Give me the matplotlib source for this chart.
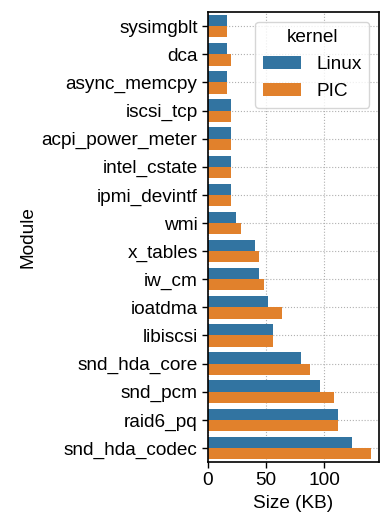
import numpy as np
import pandas as pd
import matplotlib
matplotlib.use("Agg")
import matplotlib.pyplot as plt
import seaborn as sns

# data (KB)
modules = ["sysimgblt", "dca", "async_memcpy", "iscsi_tcp", "acpi_power_meter",
           "intel_cstate", "ipmi_devintf", "wmi", "x_tables", "iw_cm", "ioatdma",
           "libiscsi", "snd_hda_core", "snd_pcm", "raid6_pq", "snd_hda_codec"]
linux_kb = [16, 16, 16, 20, 20, 20, 20, 24, 40, 44, 52, 56, 80, 96, 112, 124]
pic_kb = [16, 20, 16, 20, 20, 20, 20, 28, 44, 48, 64, 56, 88, 108, 112, 140]
kernels = ["Linux", "PIC"]

df = pd.DataFrame({
    "Module": modules * 2,
    "Size (KB)": linux_kb + pic_kb,
    "kernel": [kernels[0]] * len(modules) + [kernels[1]] * len(modules),
})

fs = 13.7
plt.rcParams['font.family'] = ['Liberation Sans', 'DejaVu Sans']
plt.rcParams['font.size'] = fs

fig = plt.figure(figsize=(3.91, 5.28), dpi=100)
ax = fig.add_axes([0.532, 0.125, 0.437, 0.852])

sns.barplot(data=df, y="Module", x="Size (KB)", hue="kernel", orient="h",
            ax=ax, order=modules, hue_order=kernels)

ax.grid(True, linestyle=":", color="#b0b0b0", linewidth=0.8)
ax.set_axisbelow(True)
for s in ax.spines.values():
    s.set_color("black")
    s.set_linewidth(1.2)
ax.tick_params(axis="both", direction="out", length=4, width=1, labelsize=fs)
ax.set_xticks([0, 50, 100])
ax.set_xlabel("Size (KB)", fontsize=fs)
ax.set_ylabel("Module", fontsize=fs)

leg = ax.legend(title="kernel", loc="upper right", fontsize=fs, title_fontsize=fs,
                fancybox=True, framealpha=0.8)

fig.savefig("out.png", dpi=100)
